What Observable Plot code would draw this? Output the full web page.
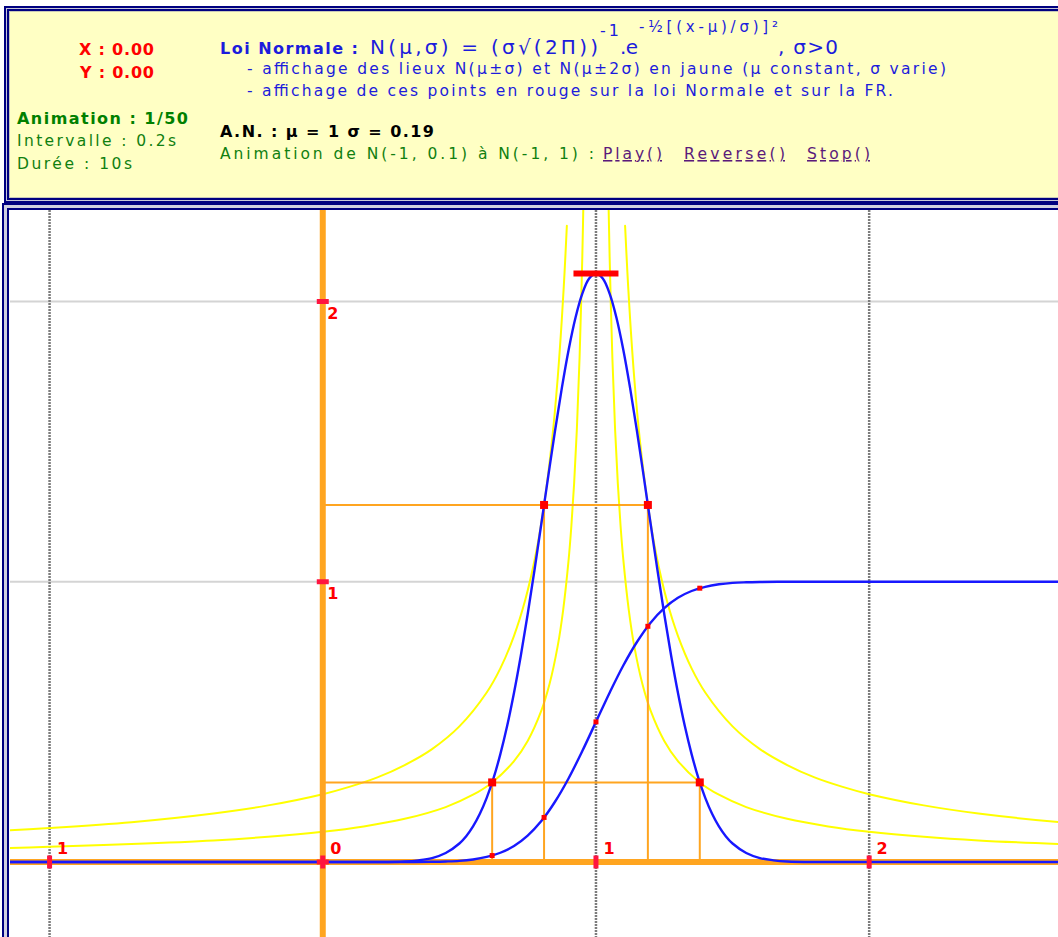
<!DOCTYPE html>
<html lang="fr"><head><meta charset="utf-8">
<script src="https://cdn.jsdelivr.net/npm/d3@7"></script>
<script src="https://cdn.jsdelivr.net/npm/@observablehq/plot@0.6"></script>
<style>
html,body{margin:0;padding:0;background:#fff;}
body{width:1058px;height:937px;overflow:hidden;position:relative;font-family:"DejaVu Sans",Verdana,sans-serif;}
#hdr{position:absolute;left:4px;top:6px;width:1120px;height:197px;box-sizing:border-box;background:#ffffc4;border:2px solid #000080;box-shadow:inset 0 0 0 1px #c8c8d8, inset 0 0 0 3px #000080, inset 0 0 0 4px #c8c8b8;}
#hdrtxt{position:absolute;left:0;top:0;width:1058px;height:205px;overflow:visible;}
#hdrtxt text{font-family:"DejaVu Sans",sans-serif;font-size:15.5px;}
#hdrtxt text.b{font-weight:bold;font-size:16px;}
#panel{position:absolute;left:2px;top:203px;width:1120px;height:760px;box-sizing:border-box;border:2px solid #000080;box-shadow:inset 0 0 0 3px #d0d0e0, inset 0 0 0 5px #000080;}
#chart{position:absolute;left:10px;top:210px;width:1048px;height:727px;overflow:hidden;background:#fff;}
</style></head>
<body>
<div id="hdr"></div>
<svg id="hdrtxt" width="1058" height="205" xmlns="http://www.w3.org/2000/svg">
  <text class="b" x="79" y="55" fill="#ff0000" textLength="75" lengthAdjust="spacing">X : 0.00</text>
  <text class="b" x="80" y="78" fill="#ff0000" textLength="74" lengthAdjust="spacing">Y : 0.00</text>
  <text class="b" x="17" y="124" fill="#008000" textLength="171" lengthAdjust="spacing">Animation : 1/50</text>
  <text x="17" y="146" fill="#108010" textLength="159" lengthAdjust="spacing">Intervalle : 0.2s</text>
  <text x="17" y="169" fill="#108010" textLength="115" lengthAdjust="spacing">Durée : 10s</text>
  <text class="b" x="220" y="54" fill="#1c1cdc" textLength="138" lengthAdjust="spacing">Loi Normale :</text>
  <text x="370" y="54" fill="#1c1cdc" style="font-size:20px" textLength="228" lengthAdjust="spacing">N(μ,σ) = (σ√(2Π))</text>
  <text x="600" y="36" fill="#1c1cdc" style="font-size:16px" textLength="19" lengthAdjust="spacing">-1</text>
  <text x="620" y="54" fill="#1c1cdc" style="font-size:20px" textLength="18" lengthAdjust="spacing">.e</text>
  <text x="639" y="32" fill="#1c1cdc" style="font-size:15px" textLength="139" lengthAdjust="spacing">-½[(x-μ)/σ)]²</text>
  <text x="778" y="54" fill="#1c1cdc" style="font-size:20px" textLength="60" lengthAdjust="spacing">, σ&gt;0</text>
  <text x="247" y="74" fill="#1c1cdc" textLength="699" lengthAdjust="spacing">- affichage des lieux N(μ±σ) et N(μ±2σ) en jaune (μ constant, σ varie)</text>
  <text x="247" y="96" fill="#1c1cdc" textLength="646" lengthAdjust="spacing">- affichage de ces points en rouge sur la loi Normale et sur la FR.</text>
  <text class="b" x="220" y="137" fill="#000000" textLength="214" lengthAdjust="spacing">A.N. : μ = 1 σ = 0.19</text>
  <text x="220" y="159" fill="#108010" textLength="374" lengthAdjust="spacing">Animation de N(-1, 0.1) à N(-1, 1) :</text>
  <text x="603" y="159" fill="#5a1a7a" text-decoration="underline" textLength="59" lengthAdjust="spacing">Play()</text>
  <text x="684" y="159" fill="#5a1a7a" text-decoration="underline" textLength="101" lengthAdjust="spacing">Reverse()</text>
  <text x="807" y="159" fill="#5a1a7a" text-decoration="underline" textLength="63" lengthAdjust="spacing">Stop()</text>
</svg>
<div id="panel"></div>
<div id="chart"></div>
<script>
// ---- data ----
const mu = 1;
const xTickValues = [-1, 0, 1, 2];
const xTickLabels = ["1", "0", "1", "2"];
const yTickValues = [0, 1, 2];
const yTickLabels = ["", "1", "2"];
const xGridValues = [-1, 1, 2];
const yGridValues = [1, 2];

// loi normale (courbe bleue en cloche)
const densityX = [-1.2, 0.1, 0.2, 0.3, 0.35, 0.4, 0.45, 0.5, 0.525, 0.55, 0.575, 0.6, 0.625, 0.65, 0.675, 0.7, 0.725, 0.75, 0.775, 0.8, 0.825, 0.85, 0.875, 0.9, 0.925, 0.95, 0.975, 1.0,
  1.025, 1.05, 1.075, 1.1, 1.125, 1.15, 1.175, 1.2, 1.225, 1.25, 1.275, 1.3, 1.325, 1.35, 1.375, 1.4, 1.425, 1.45, 1.475, 1.5, 1.55, 1.6, 1.65, 1.7, 1.8, 1.9, 2.8];
const densityY = [0, 0, 0, 0.002, 0.006, 0.014, 0.032, 0.066, 0.092, 0.127, 0.172, 0.229, 0.299, 0.385, 0.486, 0.604, 0.737, 0.884, 1.042, 1.207, 1.374, 1.538, 1.691, 1.828, 1.942, 2.028, 2.082, 2.100,
  2.082, 2.028, 1.942, 1.828, 1.691, 1.538, 1.374, 1.207, 1.042, 0.884, 0.737, 0.604, 0.486, 0.385, 0.299, 0.229, 0.172, 0.127, 0.092, 0.066, 0.032, 0.014, 0.006, 0.002, 0, 0, 0];

// fonction de répartition (FR, courbe bleue en S)
const cdfX = [-1.2, 0.2, 0.3, 0.4, 0.45, 0.5, 0.55, 0.6, 0.65, 0.7, 0.75, 0.8, 0.85, 0.9, 0.95, 1.0, 1.05, 1.1, 1.15, 1.2, 1.25, 1.3, 1.35, 1.4, 1.45, 1.5, 1.55, 1.6, 1.7, 1.8, 2.8];
const cdfY = [0, 0, 0.000, 0.001, 0.002, 0.004, 0.009, 0.018, 0.033, 0.057, 0.094, 0.146, 0.215, 0.299, 0.396, 0.500, 0.604, 0.701, 0.785, 0.854, 0.906, 0.943, 0.967, 0.982, 0.991, 0.996, 0.998, 0.999, 1.000, 1.000, 1.000];

// lieux jaunes N(μ±σ) : écart |x-μ| et hauteur
const locusSigmaOffset = [0.1066, 0.115, 0.125, 0.14, 0.16, 0.19, 0.22, 0.26, 0.3, 0.35, 0.4, 0.5, 0.6, 0.7, 0.8, 0.9, 1.0, 1.2, 1.4, 1.7, 2.0, 2.2];
const locusSigmaY = [2.270, 2.104, 1.936, 1.728, 1.512, 1.274, 1.100, 0.931, 0.807, 0.691, 0.605, 0.484, 0.403, 0.346, 0.302, 0.269, 0.242, 0.202, 0.173, 0.142, 0.121, 0.110];
// lieux jaunes N(μ±2σ)
const locus2SigmaOffset = [0.044, 0.05, 0.06, 0.07, 0.08, 0.09, 0.1, 0.12, 0.14, 0.17, 0.2, 0.25, 0.3, 0.38, 0.45, 0.55, 0.7, 0.85, 1.0, 1.2, 1.4, 1.7, 2.0, 2.2];
const locus2SigmaY = [2.455, 2.160, 1.800, 1.543, 1.350, 1.200, 1.080, 0.900, 0.771, 0.635, 0.540, 0.432, 0.360, 0.284, 0.240, 0.196, 0.154, 0.127, 0.108, 0.090, 0.077, 0.064, 0.054, 0.049];

// points rouges
const normalPointX = [0.81, 1.19, 0.62, 1.38];
const normalPointY = [1.274, 1.274, 0.284, 0.284];
const cdfPointX = [0.62, 0.81, 1.0, 1.19, 1.38];
const cdfPointY = [0.023, 0.159, 0.500, 0.841, 0.977];
const peakX = [1.0];
const peakY = [2.100];

// ---- tables ----
const zip = (xs, ys) => xs.map((x, i) => ({x, y: ys[i]}));
const density = zip(densityX, densityY);
const cdf = zip(cdfX, cdfY);
const branches = (offs, ys) => [
  ...offs.map((d, i) => ({x: mu - d, y: ys[i], side: "L"})),
  ...offs.map((d, i) => ({x: mu + d, y: ys[i], side: "R"}))
];
const locus1 = branches(locusSigmaOffset, locusSigmaY);
const locus2 = branches(locus2SigmaOffset, locus2SigmaY);
const normalPts = zip(normalPointX, normalPointY);
const cdfPts = zip(cdfPointX, cdfPointY);
const peak = zip(peakX, peakY);
const guides = d3.rollups(normalPts, v => d3.max(v, d => d.x), d => d.y).map(([y, x]) => ({x, y}));
const xTicks = xTickValues.map((v, i) => ({v, label: xTickLabels[i]}));
const yTicks = yTickValues.map((v, i) => ({v, label: yTickLabels[i]}));

// ---- symboles ----
const vbar = {draw(ctx) { ctx.rect(-2.5, -6.5, 5, 13); }};
const hbar = {draw(ctx) { ctx.rect(-6, -2.5, 12, 5); }};
const peakBar = {draw(ctx) { ctx.rect(-22.5, -3, 45, 6); }};
const bigSq = {draw(ctx) { ctx.rect(-4, -4, 8, 8); }};
const smallSq = {draw(ctx) { ctx.rect(-2.5, -2.5, 5, 5); }};

const RED = "#ff0000", TICKRED = "#ff1440", ORANGE = "#ffa520", YELLOW = "#ffff00", BLUE = "#1818ff";

const chart = Plot.plot({
  width: 1048, height: 727, margin: 0,
  x: {domain: [-1.143, 2.693], axis: null},
  y: {domain: [-0.2694, 2.3247], axis: null},
  style: {background: "#ffffff"},
  marks: [
    Plot.ruleY(yGridValues, {stroke: "#d4d4d4", strokeWidth: 2}),
    Plot.ruleX(xGridValues, {stroke: "#7c7c7c", strokeWidth: 2.5, strokeDasharray: "2,1"}),
    Plot.line(locus1, {x: "x", y: "y", z: "side", stroke: YELLOW, strokeWidth: 2, curve: "catmull-rom", clip: true}),
    Plot.line(locus2, {x: "x", y: "y", z: "side", stroke: YELLOW, strokeWidth: 2, curve: "catmull-rom", clip: true}),
    Plot.ruleY(guides, {y: "y", x1: () => 0, x2: "x", stroke: ORANGE, strokeWidth: 2}),
    Plot.ruleX(normalPts, {x: "x", y1: () => 0, y2: "y", stroke: ORANGE, strokeWidth: 2}),
    Plot.ruleX([0], {stroke: ORANGE, strokeWidth: 6}),
    Plot.ruleY([0], {stroke: ORANGE, strokeWidth: 6}),
    Plot.line(density, {x: "x", y: "y", stroke: BLUE, strokeWidth: 2.4, curve: "catmull-rom", clip: true}),
    Plot.line(cdf, {x: "x", y: "y", stroke: BLUE, strokeWidth: 2.4, curve: "catmull-rom", clip: true}),
    Plot.dot(xTicks, {x: "v", y: () => 0, symbol: vbar, fill: TICKRED, stroke: "none"}),
    Plot.dot(yTicks, {x: () => 0, y: "v", symbol: hbar, fill: TICKRED, stroke: "none"}),
    Plot.dot(normalPts, {x: "x", y: "y", symbol: bigSq, fill: RED, stroke: "none"}),
    Plot.dot(cdfPts, {x: "x", y: "y", symbol: smallSq, fill: RED, stroke: "none"}),
    Plot.dot(peak, {x: "x", y: "y", symbol: peakBar, fill: RED, stroke: "none"}),
    Plot.text(xTicks, {x: "v", y: () => 0, text: "label", dx: 13, dy: -13, fill: RED, fontWeight: "bold", fontSize: 16, fontFamily: "DejaVu Sans"}),
    Plot.text(yTicks.filter(d => d.label), {x: () => 0, y: "v", text: "label", dx: 10, dy: 12, fill: RED, fontWeight: "bold", fontSize: 16, fontFamily: "DejaVu Sans"})
  ]
});
document.getElementById("chart").appendChild(chart);
</script>
</body></html>
